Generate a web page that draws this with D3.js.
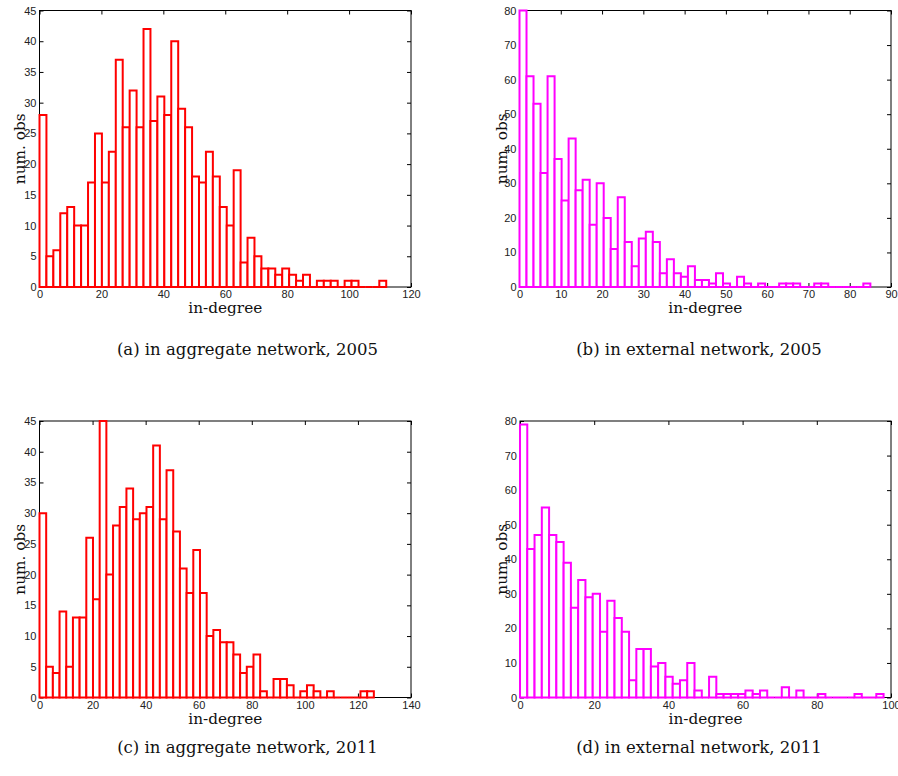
<!DOCTYPE html>
<html>
<head>
<meta charset="utf-8">
<script src="https://cdn.jsdelivr.net/npm/d3@7"></script>
<style>
  body { margin: 0; background: #fff; }
  svg { display: block; }
</style>
</head>
<body>
<svg id="fig" width="898" height="776"></svg>
<script>
// Histogram counts, 50 equal bins per network/year
const aggregate2005 = [28, 5, 6, 12, 13, 10, 10, 17, 25, 17, 22, 37, 26, 32, 26, 42, 27, 31, 28, 40,
  29, 26, 18, 17, 22, 18, 13, 10, 19, 4, 8, 5, 3, 3, 2, 3, 2, 1, 2, 0,
  1, 1, 1, 0, 1, 1, 0, 0, 0, 1];
const external2005 = [80, 61, 53, 33, 61, 37, 25, 43, 28, 31, 18, 30, 20, 11, 26, 13, 6, 14, 16, 13,
  4, 8, 4, 3, 6, 2, 2, 1, 4, 1, 0, 3, 1, 0, 1, 0, 0, 1, 1, 1,
  0, 0, 1, 1, 0, 0, 0, 0, 0, 1];
const aggregate2011 = [30, 5, 4, 14, 5, 13, 13, 26, 16, 45, 20, 28, 31, 34, 29, 30, 31, 41, 29, 37,
  27, 21, 17, 24, 17, 10, 11, 9, 9, 7, 4, 5, 7, 1, 0, 3, 3, 2, 0, 1,
  2, 1, 0, 1, 0, 0, 0, 0, 1, 1];
const external2011 = [79, 43, 47, 55, 47, 45, 39, 26, 34, 29, 30, 19, 28, 23, 19, 5, 14, 14, 9, 10,
  6, 4, 5, 10, 2, 0, 6, 1, 1, 1, 1, 2, 1, 2, 0, 0, 3, 0, 2, 0,
  0, 1, 0, 0, 0, 0, 1, 0, 0, 1];

// Largest observed in-degree (upper edge of the last bin)
const binUpper = [112, 85, 126, 98];
// Axis extents and tick steps
const xMaxes = [120, 90, 140, 100];
const xSteps = [20, 10, 20, 20];
const yMaxes = [45, 80, 45, 80];
const ySteps = [5, 10, 5, 10];
const captions = [
  "(a) in aggregate network, 2005",
  "(b) in external network, 2005",
  "(c) in aggregate network, 2011",
  "(d) in external network, 2011"
];
const xLabel = "in-degree";
const yLabel = "num. obs";

const seriesList = [aggregate2005, external2005, aggregate2011, external2011];
const colors = ["#ff0000", "#ff00ff", "#ff0000", "#ff00ff"];

// Plot frames on the page
const frames = [
  { left: 39.5, right: 411, top: 10.5, bottom: 287, yGap: 15, capX: 247.5, capY: 355 },
  { left: 519.5, right: 891, top: 10.5, bottom: 287, yGap: 13, capX: 699, capY: 355 },
  { left: 39.5, right: 411, top: 421, bottom: 697.5, yGap: 15, capX: 247.5, capY: 753 },
  { left: 520, right: 891, top: 421, bottom: 697.5, yGap: 13, capX: 699, capY: 753 }
];

const svg = d3.select("#fig");
const tickFont = "'Liberation Sans', Arial, sans-serif";
const labelFont = "'DejaVu Serif', serif";

seriesList.forEach((counts, i) => {
  const f = frames[i];
  const nBins = counts.length;
  const binW = binUpper[i] / nBins;

  const x = d3.scaleLinear().domain([0, xMaxes[i]]).range([f.left, f.right]);
  const y = d3.scaleLinear().domain([0, yMaxes[i]]).range([f.bottom, f.top]);

  const xTicks = d3.range(0, xMaxes[i] + 1e-9, xSteps[i]);
  const yTicks = d3.range(0, yMaxes[i] + 1e-9, ySteps[i]);

  const g = svg.append("g");

  // box
  g.append("rect")
    .attr("x", f.left).attr("y", f.top)
    .attr("width", f.right - f.left).attr("height", f.bottom - f.top)
    .attr("fill", "none").attr("stroke", "#000").attr("stroke-width", 1);

  const styleAxis = sel => {
    sel.select(".domain").remove();
    sel.selectAll(".tick line").attr("stroke", "#000");
    sel.selectAll(".tick text")
      .attr("fill", "#222")
      .style("font-family", tickFont)
      .style("font-size", "11px");
  };

  g.append("g")
    .attr("transform", `translate(0,${f.bottom})`)
    .call(d3.axisBottom(x).tickValues(xTicks).tickSize(-4).tickPadding(3.5).tickFormat(d3.format("d")))
    .call(styleAxis);
  g.append("g")
    .attr("transform", `translate(0,${f.top})`)
    .call(d3.axisTop(x).tickValues(xTicks).tickSize(-4).tickFormat(""))
    .call(styleAxis);
  g.append("g")
    .attr("transform", `translate(${f.left},0)`)
    .call(d3.axisLeft(y).tickValues(yTicks).tickSize(-4).tickPadding(3).tickFormat(d3.format("d")))
    .call(styleAxis);
  g.append("g")
    .attr("transform", `translate(${f.right},0)`)
    .call(d3.axisRight(y).tickValues(yTicks).tickSize(-4).tickFormat(""))
    .call(styleAxis);

  // histogram bars (outlined, drawn over the axes)
  g.append("g")
    .selectAll("path")
    .data(counts)
    .join("path")
    .attr("d", (c, k) => {
      const x0 = x(k * binW), x1 = x((k + 1) * binW);
      const y0 = y(0), y1 = y(c);
      return `M${x0},${y0}V${y1}H${x1}V${y0}Z`;
    })
    .attr("fill", "#fff")
    .attr("stroke", colors[i])
    .attr("stroke-width", 2)
    .attr("stroke-linejoin", "miter");

  // axis titles
  g.append("text")
    .attr("x", (f.left + f.right) / 2)
    .attr("y", f.bottom + 26)
    .attr("text-anchor", "middle")
    .style("font-family", labelFont)
    .style("font-size", "15.3px")
    .attr("fill", "#111")
    .text(xLabel);

  g.append("text")
    .attr("transform", `translate(${f.left - f.yGap},${(f.top + f.bottom) / 2}) rotate(-90)`)
    .attr("text-anchor", "middle")
    .style("font-family", labelFont)
    .style("font-size", "15.3px")
    .attr("fill", "#111")
    .text(yLabel);

  // sub-figure caption
  svg.append("text")
    .attr("x", f.capX)
    .attr("y", f.capY)
    .attr("text-anchor", "middle")
    .style("font-family", labelFont)
    .style("font-size", "16.5px")
    .attr("fill", "#111")
    .text(captions[i]);
});
</script>
</body>
</html>
